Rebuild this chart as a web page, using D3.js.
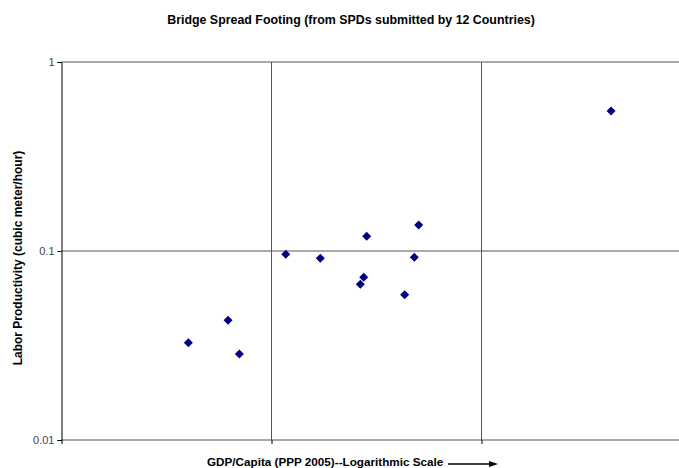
<!DOCTYPE html>
<html>
<head>
<script src="https://d3js.org/d3.v7.min.js"></script>
<style>
    body { margin: 0; background: #fff; }
    text { font-family: "Liberation Sans", Arial, sans-serif; }
</style>
</head>
<body>
<div id="chart"></div>
<script>
    // GDP per capita (PPP 2005) and labor productivity (m3/hour), one per country
    var gdp = [402, 621, 703, 1169, 1708, 2648, 2748, 2840, 4306, 4786, 5023, 41400];
    var productivity = [0.0327, 0.0430, 0.0285, 0.0961, 0.0915, 0.0667, 0.0726, 0.1196, 0.0587, 0.0926, 0.1373, 0.5505];
    var yTicks = [1, 0.1, 0.01];
    var xGrid = [100, 1000, 10000];

    var width = 679, height = 468;

    var svg = d3.select("#chart").append("svg")
        .attr("width", width)
        .attr("height", height);

    var x = d3.scaleLog()
        .domain([100, 100000])
        .range([61.5, 691.5]);

    var y = d3.scaleLog()
        .domain([0.01, 1])
        .range([440, 62]);

    // grid lines
    svg.append("g")
        .selectAll("line")
        .data(xGrid.slice(1))
        .enter().append("line")
        .attr("x1", function (d) { return x(d); })
        .attr("x2", function (d) { return x(d); })
        .attr("y1", y(1))
        .attr("y2", y(0.01))
        .style("stroke", "#555")
        .style("stroke-width", 1);

    svg.append("g")
        .selectAll("line")
        .data(yTicks)
        .enter().append("line")
        .attr("x1", x(100))
        .attr("x2", width)
        .attr("y1", function (d) { return y(d); })
        .attr("y2", function (d) { return y(d); })
        .style("stroke", "#555")
        .style("stroke-width", 1);

    // y axis
    svg.append("g")
        .attr("transform", "translate(" + x(100) + ",0)")
        .call(d3.axisLeft(y).tickValues(yTicks).tickSize(4).tickFormat(d3.format("")))
        .call(function (g) {
            g.select(".domain").attr("stroke", "#000");
            g.selectAll("text").attr("fill", "#444").style("font-size", "11px");
        });

    // x axis ticks, no labels
    svg.append("g")
        .attr("transform", "translate(0," + y(0.01) + ")")
        .call(d3.axisBottom(x).tickValues(xGrid).tickSize(4).tickFormat(""))
        .call(function (g) {
            g.select(".domain").remove();
        });

    // points
    var pts = gdp.map(function (g, i) { return [g, productivity[i]]; });
    svg.append("g")
        .selectAll("path")
        .data(pts)
        .enter().append("path")
        .attr("d", d3.symbol().type(d3.symbolDiamond2).size(52))
        .attr("transform", function (d) {
            return "translate(" + x(d[0]) + "," + y(d[1]) + ")";
        })
        .style("fill", "#000080");

    // title
    svg.append("text")
        .attr("x", 351)
        .attr("y", 24)
        .attr("text-anchor", "middle")
        .style("font-size", "12.4px")
        .style("font-weight", "bold")
        .text("Bridge Spread Footing (from SPDs submitted by 12 Countries)");

    // y label
    svg.append("text")
        .attr("transform", "translate(22,258) rotate(-90)")
        .attr("text-anchor", "middle")
        .style("font-size", "12px")
        .style("font-weight", "bold")
        .text("Labor Productivity (cubic meter/hour)");

    // x label with arrow
    svg.append("text")
        .attr("x", 207)
        .attr("y", 466)
        .style("font-size", "11.7px")
        .style("font-weight", "bold")
        .text("GDP/Capita (PPP 2005)--Logarithmic Scale");

    svg.append("line")
        .attr("x1", 448)
        .attr("x2", 491)
        .attr("y1", 464)
        .attr("y2", 464)
        .style("stroke", "#000")
        .style("stroke-width", 1.5);

    svg.append("path")
        .attr("d", "M489,461 L498,464 L489,467 Z")
        .style("fill", "#000");
</script>
</body>
</html>
